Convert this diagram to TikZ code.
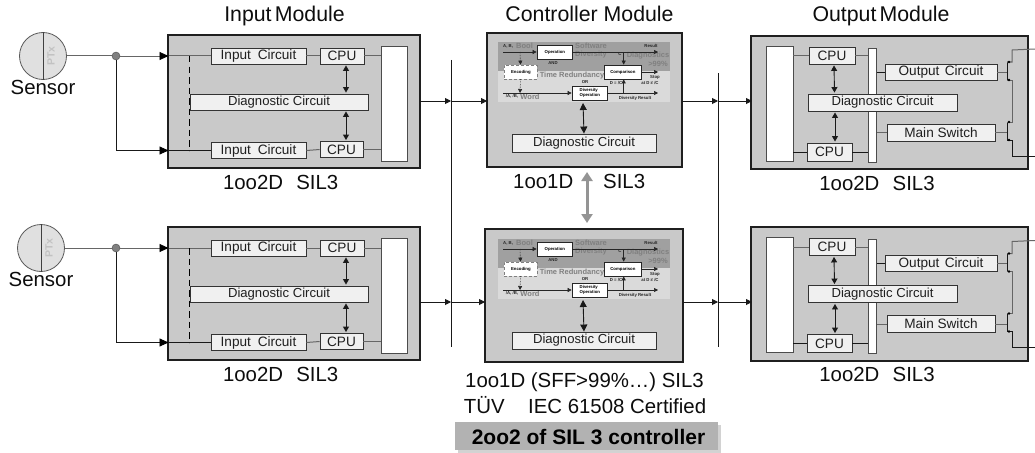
\documentclass[tikz,border=0pt]{standalone}
\usepackage{fontspec}
\setmainfont{Liberation Sans}
\usetikzlibrary{arrows.meta,shadows}
\definecolor{modfill}{HTML}{C9C9C9}
\definecolor{boxfill}{HTML}{F0F0F0}
\definecolor{wiregray}{HTML}{666666}
\definecolor{picdark}{HTML}{A0A0A0}
\definecolor{piclight}{HTML}{DADADA}
\definecolor{pictext}{HTML}{808080}
\tikzset{
  lab/.style={inner sep=0pt,anchor=base,font=\fontsize{20.4}{22}\selectfont,text=black!95},
  ttl/.style={lab,font=\fontsize{21.3}{23}\selectfont},
  modbox/.style={draw=black!88,line width=1.4pt,fill=modfill,inner sep=0pt},
  cbox/.style={draw=black!80,line width=0.9pt,fill=boxfill,inner sep=0pt,font=\fontsize{13.6}{15}\selectfont,text=black!88},
  dbox/.style={cbox,font=\fontsize{13.1}{15}\selectfont},
  wbox/.style={draw=black!70,line width=0.8pt,fill=white,inner sep=0pt},
  wire/.style={draw=wiregray,line width=1pt},
  blk/.style={draw=black!90,line width=0.9pt},
  inarrow/.style={blk,-{Triangle[length=9pt,width=8pt,black]}},
  smarrow/.style={blk,-{Triangle[length=6pt,width=6pt]}},
  bidir/.style={blk,{Triangle[length=5.5pt,width=6pt]}-{Triangle[length=5.5pt,width=6pt]}},
  bidirb/.style={blk,{Triangle[length=7pt,width=7pt]}-{Triangle[length=7pt,width=7pt]}},
  tiny/.style={inner sep=0pt,font=\bfseries\fontsize{4.3}{4.8}\selectfont,text=black!85},
  tinyg/.style={inner sep=0pt,font=\bfseries\fontsize{7.5}{8}\selectfont,text=pictext},
  pbox/.style={draw=black!85,line width=0.7pt,fill=white,inner sep=0pt,align=left,font=\bfseries\fontsize{4.3}{4.8}\selectfont},
  parrow/.style={draw=black!85,line width=0.6pt,-{Triangle[length=4pt,width=4pt]}},
}
\newcommand{\inmodule}[3]{%
 \begin{scope}[shift={(0,#2)},name prefix=#1-]
  \node[modbox,minimum width=252pt,minimum height=133pt] (m) at (294,101.5) {};
  \node[wbox,minimum width=26pt,minimum height=115pt] (w) at (394,103.5) {};
  \node[cbox,minimum width=95pt,minimum height=16pt] (ia) at (258.5,56) {Input\hspace{.5em}Circuit};
  \node[cbox,minimum width=44pt,minimum height=16pt] (ca) at (342,56) {CPU};
  \node[cbox,minimum width=95pt,minimum height=16pt] (ib) at (258.5,150.5) {Input\hspace{.5em}Circuit};
  \node[cbox,minimum width=43pt,minimum height=16pt] (cb) at (341.5,149.5) {CPU};
  \node[dbox,minimum width=178pt,minimum height=16pt] (dg) at (279,102) {Diagnostic Circuit};
  \node[circle,draw=black!65,fill=black!12,line width=0.8pt,minimum size=47pt,inner sep=0pt] (s) at (#3,56) {};
  \draw[black!75,line width=0.8pt] (s.north) -- (s.south);
  \node[rotate=90,inner sep=0pt,font=\bfseries\fontsize{10.5}{11}\selectfont,text=black!24] (ptx) at (#3+8,56) {PTx};
  \node[lab] (sl) at (#3,94) {Sensor};
  \node[circle,draw=black!70,fill=black!50,minimum size=8pt,inner sep=0pt] (j) at (116,56) {};
  \coordinate (ta) at (168.5,56);
  \coordinate (tb) at (168.5,150.5);
  \coordinate (jb) at (116,150.5);
  \coordinate (da) at (189.5,56);
  \coordinate (db) at (189.5,150.5);
  \draw[wire] (s.east) -- (j.west);
  \draw[inarrow,draw=wiregray] (j.east) -- (ta);
  \draw[wire] (ta) -- (ia.west);
  \draw[inarrow] (j.south) -- (jb) -- (tb);
  \draw[blk] (tb) -- (ib.west);
  \draw[black,line width=1.3pt,dash pattern=on 6.5pt off 4pt] (da) -- (db);
  \draw[wire] (ia.east) -- (ca.west);
  \draw[wire] (ib.east) -- (cb.west);
  \draw[wire] (ca.east) -- (ca.east -| w.west);
  \draw[wire] (cb.east) -- (cb.east -| w.west);
  \draw[bidir] ([xshift=4pt,yshift=-1pt]ca.south) -- ([xshift=4pt,yshift=1pt]ca.south |- dg.north);
  \draw[bidir] ([xshift=4.5pt,yshift=-1pt]cb.north |- dg.south) -- ([xshift=4.5pt,yshift=1pt]cb.north);
 \end{scope}}
\newcommand{\outmodule}[2]{%
 \begin{scope}[shift={(0,#2)},name prefix=#1-]
  \node[wbox,minimum width=27pt,minimum height=115pt] (w) at (779.5,103.5) {};
  \node[cbox,minimum width=46pt,minimum height=17pt] (ca) at (832,55.5) {CPU};
  \node[cbox,minimum width=45pt,minimum height=18pt] (cb) at (829.5,152) {CPU};
  \node[wbox,minimum width=8pt,minimum height=114pt] (bar) at (872.5,105) {};
  \node[cbox,minimum width=112pt,minimum height=16pt] (oc) at (941,72) {Output\hspace{.4em}Circuit};
  \node[cbox,minimum width=108pt,minimum height=17pt] (ms) at (941,132.5) {Main Switch};
  \node[dbox,minimum width=149pt,minimum height=17pt] (dg) at (882.5,102.5) {Diagnostic Circuit};
  \coordinate (wa) at (1035,49);
  \coordinate (wb) at (1035,156);
  \coordinate (k1) at (1007,62);
  \coordinate (k2) at (1007,80);
  \coordinate (k3) at (1007,122);
  \coordinate (k4) at (1007,140);
  \coordinate (kc) at (1007,72);
  \coordinate (kd) at (1007,132.5);
  \draw[wire] (w.east |- ca.west) -- (ca.west);
  \draw[blk] (w.east |- cb.west) -- (cb.west);
  \draw[wire] (ca.east) -- (ca.east -| bar.west);
  \draw[blk] (cb.east) -- (cb.east -| bar.west);
  \draw[blk] (bar.east |- oc.west) -- (oc.west);
  \draw[wire] (bar.east |- ms.west) -- (ms.west);
  \draw[wire] (oc.east) -- (kc);
  \draw[wire] (ms.east) -- (kd);
  \draw[blk] (k1) -- (k2);
  \draw[blk] (k3) -- (k4);
  \draw[wire] (wa) -- (1012,50) -- (1012,62) -- (k1);
  \draw[wire] (k2) -- (1012,80) -- (1012,122) -- (k3);
  \draw[blk] (k4) -- (1012,140) -- (1012,156) -- (wb);
  \foreach \k in {k1,k2,k3,k4} \fill[black] ([xshift=2pt]\k) circle (1.4pt);
  \draw[bidir] ([xshift=2pt,yshift=-1pt]ca.south) -- ([xshift=2.5pt,yshift=1pt]ca.south |- dg.north);
  \draw[bidir] ([xshift=5.5pt,yshift=-1pt]cb.north |- dg.south) -- ([xshift=5.5pt,yshift=1pt]cb.north);
 \end{scope}}
\newcommand{\ctrlpic}[2]{%
 \begin{scope}[shift={(498,#2)},name prefix=#1-]
  \fill[picdark] (0,0) rectangle (172,29);
  \fill[piclight] (0,29) rectangle (172,60);
  \node[tinyg,anchor=west] (t1) at (18,4) {Bool};
  \node[tiny,anchor=west] (t2) at (5,4) {A, B,};
  \node[tinyg,anchor=center] (t3) at (93,4) {Software};
  \node[tinyg,anchor=center] (t4) at (93,13) {Diversity};
  \node[tiny] (t5) at (153,3.5) {Result};
  \node[tinyg] (t6) at (150,14) {Diagnostics};
  \node[tinyg] (t7) at (160,22) {>99\%};
  \node[tiny] (t8) at (55,21) {AND};
  \node[tiny] (t9) at (122,12.5) {C};
  \node[tinyg] (t10) at (74,34) {Time Redundancy};
  \node[tiny] (t11) at (87,40) {OR};
  \node[tiny] (t12) at (118,41) {D = /C};
  \node[tiny] (t13) at (157,35) {Stop};
  \node[tiny] (t14) at (152,41) {at D ≠ /C};
  \node[tiny] (t15) at (14,54.5) {/A, /B,};
  \node[tinyg] (t16) at (32,55) {Word};
  \node[tiny] (t17) at (137,56) {Diversity Result};
  \node[pbox,minimum width=35pt,minimum height=14pt] (op) at (56.5,10) {\,Operation};
  \node[pbox,minimum width=33pt,minimum height=14pt,draw=black!50,densely dashed] (en) at (22.5,30) {\,Encoding};
  \node[pbox,minimum width=37pt,minimum height=14pt] (cm) at (124.5,30) {\,Comparison};
  \node[pbox,minimum width=35pt,minimum height=14pt] (dv) at (91.5,51) {\,Diversity\\[-0.5pt]\,Operation};
  \coordinate (ab) at (5,10);
  \coordinate (wd) at (5,51);
  \coordinate (rs) at (160,10);
  \coordinate (st) at (160,30);
  \coordinate (dr) at (160,51);
  \coordinate (ce) at (125.7,10);
  \coordinate (cf) at (125.7,51);
  \coordinate (e1) at (22,10);
  \coordinate (e2) at (22,51);
  \draw[parrow] (ab) -- (op.west);
  \draw[parrow] (op.east) -- (rs);
  \draw[parrow] (ce) -- (ce |- cm.north);
  \draw[parrow] (cm.east) -- (st);
  \draw[parrow] (wd) -- (dv.west);
  \draw[parrow] (dv.east) -- (dr);
  \draw[parrow] (cf) -- (cf |- cm.south);
  \draw[parrow,densely dotted] (e1) -- (en.north);
  \draw[parrow,densely dotted] (en.south) -- (e2);
 \end{scope}}
\begin{document}
\begin{tikzpicture}[x=1pt,y=-1pt]
\useasboundingbox (0,0) rectangle (1035,452);
\fill[white] (0,0) rectangle (1035,452);
% titles
\node[ttl] (tin) at (284.5,21.7) {Input\hspace{.15em}Module};
\node[ttl] (tct) at (589.5,22) {Controller Module};
\node[ttl] (tou) at (881,22) {Output\hspace{.15em}Module};
% buses
\coordinate (bla) at (451,60);
\coordinate (blb) at (451,347);
\coordinate (bra) at (718,73);
\coordinate (brb) at (718,347);
\draw[blk] (bla) -- (blb);
\draw[blk] (bra) -- (brb);
% modules
\inmodule{ia}{0}{43}
\inmodule{ib}{192}{41}
\node[modbox,minimum width=195pt,minimum height=134pt] (c1) at (584.5,100) {};
\node[modbox,minimum width=198pt,minimum height=133pt] (c2) at (584,295.5) {};
\node[modbox,minimum width=277pt,minimum height=133pt] (oa) at (889.5,102.5) {};
\node[modbox,minimum width=277pt,minimum height=134pt] (ob) at (889.5,294) {};
\outmodule{ca}{0}
\outmodule{cb}{191.5}
\ctrlpic{pa}{42}
\ctrlpic{pb}{239}
\node[dbox,minimum width=144pt,minimum height=18pt] (d1) at (584,143) {Diagnostic Circuit};
\node[dbox,minimum width=144pt,minimum height=17pt] (d2) at (584,340.5) {Diagnostic Circuit};
\coordinate (p1) at (583,103);
\coordinate (p2) at (583,300);
\draw[bidirb] (p1) -- (d1.north);
\draw[bidirb] (p2) -- (d2.north);
% signal lines
\coordinate (l1) at (451,101);
\coordinate (l2) at (451,302);
\coordinate (i1) at (487,101);
\coordinate (i2) at (485,302);
\coordinate (o1) at (682,101);
\coordinate (o2) at (683,302);
\coordinate (r1) at (718,101);
\coordinate (r2) at (718,302);
\coordinate (e1) at (752,101);
\coordinate (e2) at (752,302);
\coordinate (s1) at (420,101);
\coordinate (s2) at (420,302);
\draw[smarrow] (s1) -- (l1);
\draw[smarrow] (l1) -- (i1);
\draw[smarrow] (s2) -- (l2);
\draw[smarrow] (l2) -- (i2);
\draw[smarrow] (o1) -- (r1);
\draw[smarrow] (r1) -- (e1);
\draw[smarrow] (o2) -- (r2);
\draw[smarrow] (r2) -- (e2);
% labels
\node[lab] (la) at (280.7,189.7) {1oo2D\hspace{.65em}SIL3};
\node[lab] (lb) at (280.7,381.7) {1oo2D\hspace{.65em}SIL3};
\node[lab] (lc) at (877,190) {1oo2D\hspace{.65em}SIL3};
\node[lab] (ld) at (877,381.7) {1oo2D\hspace{.65em}SIL3};
\node[lab,anchor=base west] (le) at (513,188) {1oo1D};
\node[lab,anchor=base west] (lf) at (603,188) {SIL3};
\node[lab] (lg) at (584.5,387) {1oo1D (SFF>99\%…) SIL3};
\node[lab] (lh) at (585,413) {TÜV\hspace{1.15em}IEC 61508 Certified};
\coordinate (ga) at (587,172);
\coordinate (gb) at (587,223);
\draw[black!42,line width=3pt,{Triangle[length=9pt,width=11pt]}-{Triangle[length=9pt,width=11pt]}] (ga) -- (gb);
\node[inner sep=0pt,minimum width=263pt,minimum height=28pt,fill=black!30,drop shadow={shadow xshift=2.5pt,shadow yshift=-2.5pt,opacity=.35}] (bn) at (586.5,436) {};
\node[lab,font=\bfseries\fontsize{21}{23}\selectfont,text=black] (bt) at (588.5,444) {2oo2 of SIL 3 controller};
\end{tikzpicture}
\end{document}
